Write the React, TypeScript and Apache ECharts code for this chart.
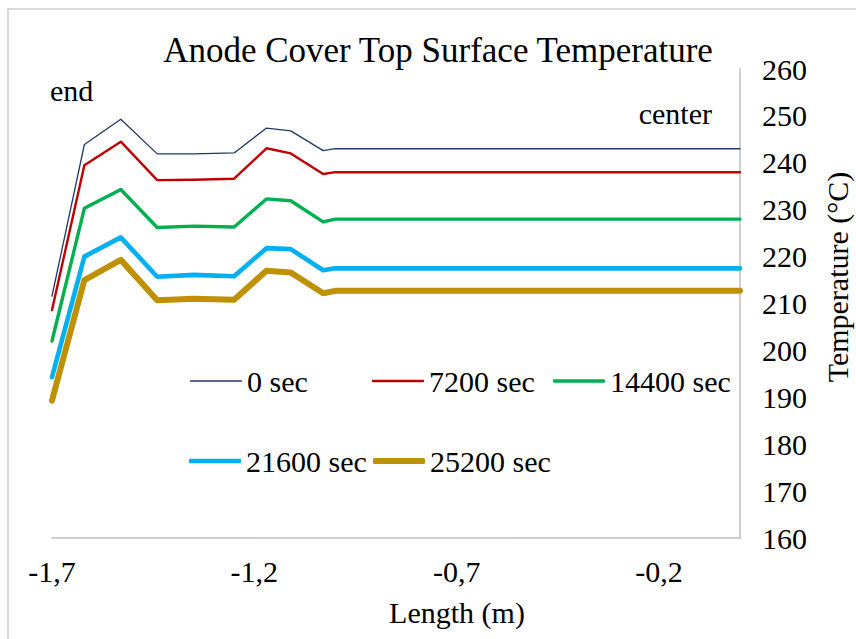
import React, { useEffect, useRef } from "react";
import * as echarts from "echarts";

const xValues = [-1.7, -1.62, -1.53, -1.44, -1.35, -1.25, -1.17, -1.11, -1.03, -1.0, 0];
const seriesNames = ["0 sec", "7200 sec", "14400 sec", "21600 sec", "25200 sec"];
const sec0 = [211.6, 243.9, 249.3, 241.9, 241.9, 242.1, 247.4, 246.8, 242.6, 243.0, 243.0];
const sec7200 = [208.6, 239.5, 244.5, 236.3, 236.4, 236.6, 243.1, 242.0, 237.6, 238.0, 238.0];
const sec14400 = [202.0, 230.3, 234.3, 226.2, 226.5, 226.3, 232.3, 231.9, 227.4, 228.0, 228.0];
const sec21600 = [194.3, 220.0, 224.1, 215.7, 216.1, 215.8, 221.8, 221.6, 217.1, 217.5, 217.5];
const sec25200 = [189.3, 215.0, 219.3, 210.7, 211.0, 210.8, 217.0, 216.6, 212.2, 212.7, 212.7];
const seriesValues = [sec0, sec7200, sec14400, sec21600, sec25200];
const colors = ["#203864", "#C00000", "#00B050", "#00B0F0", "#BF9000"];
const widths = [1.3, 2.4, 3.4, 4.6, 6];

const FONT = "'Liberation Serif', 'Times New Roman', serif";
const txt = (size: number) => ({
  fontFamily: FONT,
  fontSize: size,
  fontWeight: "normal" as const,
  fontStyle: "normal" as const,
  color: "#000",
});

export default function App() {
  const ref = useRef<HTMLDivElement>(null);
  useEffect(() => {
    if (!ref.current) return;
    const chart = echarts.init(ref.current, undefined, { renderer: "svg" });
    const legendPos = [
      [190, 381],
      [372, 381],
      [553, 381],
      [189, 461],
      [373, 461],
    ];
    const gText = (text: string, x: number, y: number, align: string, rotation = 0) => ({
      type: "text",
      x,
      y,
      rotation,
      style: {
        text,
        fontFamily: FONT,
        fontSize: 30,
        fontWeight: "normal",
        fill: "#000",
        textAlign: align,
        textVerticalAlign: "middle",
      },
    });
    chart.setOption({
      animation: false,
      backgroundColor: "#ffffff",
      textStyle: txt(30),
      title: {
        text: "Anode Cover Top Surface Temperature",
        left: 438,
        top: 33,
        textAlign: "center",
        padding: 0,
        textStyle: txt(35),
      },
      legend: seriesNames.map((n, i) => ({
        data: [{ name: n, icon: "roundRect" }],
        left: legendPos[i][0],
        top: legendPos[i][1] - 15,
        padding: 0,
        itemWidth: 52,
        itemHeight: widths[i],
        itemGap: 5,
        textStyle: txt(30),
        selectedMode: false,
      })),
      grid: { left: 52, right: 116, top: 69, bottom: 101, containLabel: false },
      xAxis: {
        type: "value",
        min: -1.7,
        max: 0,
        interval: 0.5,
        axisLine: { show: true, lineStyle: { color: "#BFBFBF", width: 1.5 } },
        axisTick: { show: false },
        splitLine: { show: false },
        axisLabel: {
          margin: 18,
          showMaxLabel: false,
          ...txt(30),
          formatter: (v: number) => v.toFixed(1).replace(".", ","),
        },
      },
      yAxis: {
        type: "value",
        position: "right",
        min: 160,
        max: 260,
        interval: 10,
        axisLine: { show: true, lineStyle: { color: "#BFBFBF", width: 1.5 } },
        axisTick: { show: false },
        splitLine: { show: false },
        axisLabel: { margin: 22, ...txt(30) },
      },
      graphic: [
        {
          type: "rect",
          shape: { x: 8, y: 9, width: 900, height: 700 },
          style: { fill: "none", stroke: "#D9D9D9", lineWidth: 2 },
          silent: true,
        },
        gText("end", 50, 90, "left"),
        gText("center", 712, 113, "right"),
        gText("Length (m)", 457, 612, "center"),
        gText("Temperature (°C)", 837, 277, "center", Math.PI / 2),
      ],
      series: seriesNames.map((n, i) => ({
        name: n,
        type: "line",
        symbol: "none",
        data: xValues.map((x, j) => [x, seriesValues[i][j]]),
        lineStyle: { color: colors[i], width: widths[i], join: "round", cap: "round" },
        itemStyle: { color: colors[i] },
        clip: true,
      })),
    });
    return () => chart.dispose();
  }, []);
  return <div ref={ref} style={{ position: "fixed", left: 0, top: 0, width: 856, height: 639 }} />;
}
